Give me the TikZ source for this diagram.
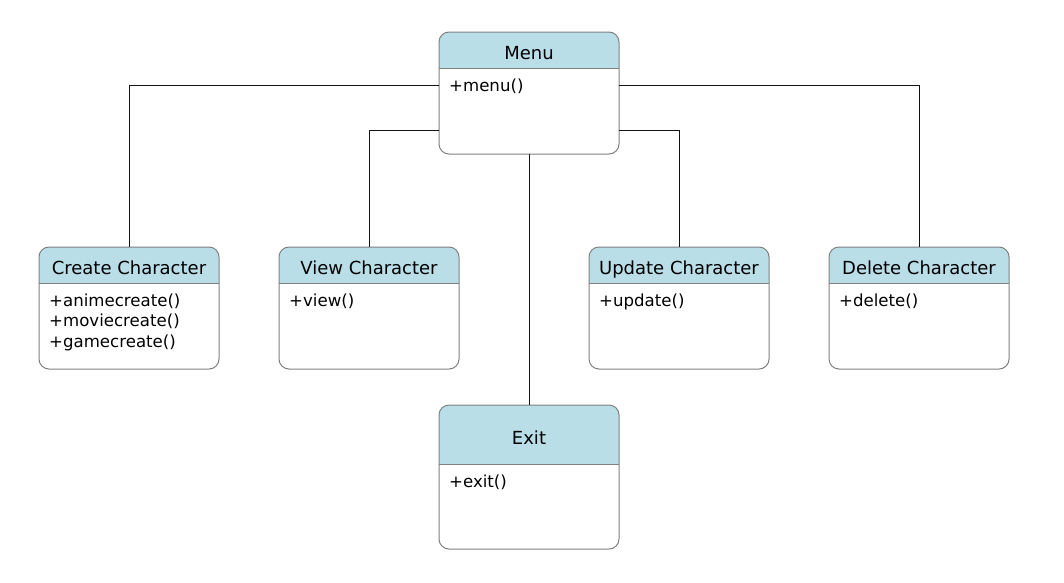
\documentclass[tikz,border=0pt]{standalone}
\usepackage{fontspec}
\setmainfont{DejaVu Sans}
\definecolor{hdrblue}{RGB}{185,222,232}
\definecolor{bordergray}{RGB}{128,128,128}
\definecolor{linedark}{RGB}{20,20,20}
\newcommand{\umlcls}[6]{%
  \node[clsanchor, minimum height=#3] (#1) at (#2) {};
  \begin{scope}
    \clip[rounded corners=10pt] (#1.south west) rectangle (#1.north east);
    \fill[hdrblue] (#1.north west) rectangle ([yshift=-#4]#1.north east);
  \end{scope}
  \draw[clsborder] (#1.south west) rectangle (#1.north east);
  \draw[bordergray, line width=1pt] ([yshift=-#4]#1.north west) -- ([yshift=-#4]#1.north east);
  \node[hdrtxt] (#1-h) at ([yshift=-#4/2-9.5]#1.north) {#5};
  \node[bodytxt] (#1-b) at ([xshift=10pt, yshift=-#4-10.5]#1.north west) {#6};
}
\begin{document}
\begin{tikzpicture}[x=1pt, y=-1pt,
  clsanchor/.style={rectangle, minimum width=180pt, inner sep=0pt, outer sep=0pt},
  clsborder/.style={draw=bordergray, line width=1pt, rounded corners=10pt},
  hdrtxt/.style={font=\fontsize{18}{21}\selectfont, text=black, inner sep=0pt, anchor=base},
  bodytxt/.style={font=\fontsize{16.6}{20.5}\selectfont, text=black, anchor=north west, align=left, inner sep=0pt},
  conn/.style={draw=linedark, line width=1pt}]
\useasboundingbox (0,0) rectangle (1064,582);
\fill[white] (0,0) rectangle (1064,582);
\coordinate (menuc) at (529,93);
\coordinate (createc) at (129,308);
\coordinate (viewc) at (369,308);
\coordinate (updatec) at (679,308);
\coordinate (deletec) at (919,308);
\coordinate (exitc) at (529,477);
\umlcls{menu}{menuc}{122pt}{36}{Menu}{+menu()}
\umlcls{create}{createc}{122pt}{36}{Create Character}{+animecreate()\\+moviecreate()\\+gamecreate()}
\umlcls{view}{viewc}{122pt}{36}{View Character}{+view()}
\umlcls{update}{updatec}{122pt}{36}{Update Character}{+update()}
\umlcls{delete}{deletec}{122pt}{36}{Delete Character}{+delete()}
\umlcls{exit}{exitc}{144pt}{59}{Exit}{+exit()}
\draw[conn] ([yshift=-53pt]menu.north west) -| (create.north);
\draw[conn] ([yshift=-98pt]menu.north west) -| (view.north);
\draw[conn] ([yshift=-53pt]menu.north east) -| (delete.north);
\draw[conn] ([yshift=-98pt]menu.north east) -| (update.north);
\draw[conn] (menu.south) -- (exit.north);
\end{tikzpicture}
\end{document}
